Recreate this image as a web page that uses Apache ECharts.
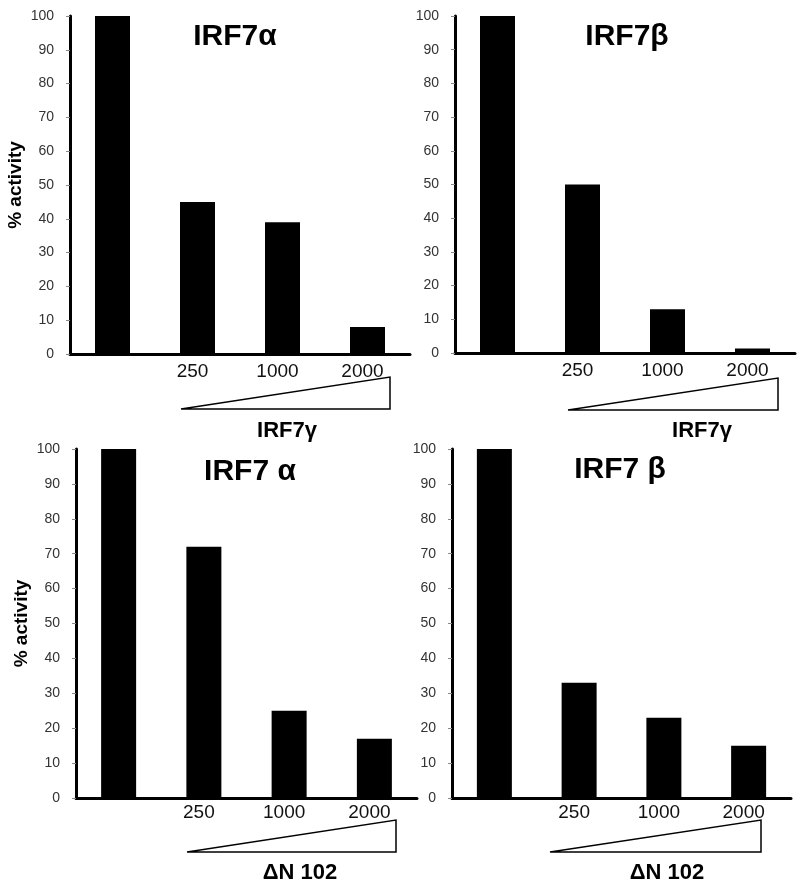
<!DOCTYPE html>
<html>
<head>
<meta charset="utf-8">
<script src="https://cdn.jsdelivr.net/npm/echarts@6/dist/echarts.min.js"></script>
<style>html,body{margin:0;padding:0;background:#fff}#c{width:800px;height:892px}</style>
</head>
<body>
<div id="c"></div>
<script>
var categories = ['', '250', '1000', '2000'];
var yTicks = [0, 10, 20, 30, 40, 50, 60, 70, 80, 90, 100];
var irf7aWithGamma = [100, 45, 39, 8];
var irf7bWithGamma = [100, 50, 13, 1.3];
var irf7aWithDN102 = [100, 72, 25, 17];
var irf7bWithDN102 = [100, 33, 23, 15];
var panelTitles = ['IRF7\u03b1', 'IRF7\u03b2', 'IRF7 \u03b1', 'IRF7 \u03b2'];
var competitorLabels = ['IRF7\u03b3', 'IRF7\u03b3', '\u0394N 102', '\u0394N 102'];
var yAxisTitle = '% activity';

var FONT = '"Liberation Sans", Arial, Helvetica, sans-serif';
var panels = [irf7aWithGamma, irf7bWithGamma, irf7aWithDN102, irf7bWithDN102];
var grids = [
  {left: 70, top: 16, width: 340, height: 338},
  {left: 455, top: 16, width: 340, height: 337},
  {left: 76, top: 449, width: 341, height: 349},
  {left: 452, top: 449, width: 339, height: 349}
];
var xLabelMargins = [8, 8, 5, 5];

var xAxes = [], yAxes = [], series = [];
panels.forEach(function (vals, i) {
  xAxes.push({
    type: 'category', gridIndex: i, data: categories, boundaryGap: true,
    axisLine: {lineStyle: {color: '#000', width: 3}},
    axisTick: {inside: true, length: 6, lineStyle: {color: '#999', width: 1}},
    axisLabel: {color: '#111', fontSize: 19, fontFamily: FONT, margin: xLabelMargins[i], padding: [0, 10, 0, 0]}
  });
  yAxes.push({
    type: 'value', gridIndex: i, min: yTicks[0], max: yTicks[yTicks.length - 1], interval: yTicks[1] - yTicks[0],
    name: (i % 2 === 0) ? yAxisTitle : '',
    nameLocation: 'middle', nameRotate: 90, nameGap: 45,
    nameTextStyle: {color: '#000', fontSize: 19, fontWeight: 'bold', fontFamily: FONT},
    axisLine: {show: true, lineStyle: {color: '#000', width: 3}},
    axisTick: {show: true, length: 4, lineStyle: {color: '#888', width: 1}},
    axisLabel: {color: '#333', fontSize: 14, fontFamily: FONT, margin: 16},
    splitLine: {show: false}
  });
  series.push({
    type: 'bar', xAxisIndex: i, yAxisIndex: i, data: vals, barWidth: 35,
    itemStyle: {color: '#000'}, silent: true, animation: false
  });
});

var titlePos = [[235, 37], [627, 37], [250, 472], [620, 470]];
var triangles = [
  [[181, 409], [390, 377], [390, 409]],
  [[568, 410], [778, 378], [778, 410]],
  [[187, 852], [396, 820], [396, 852]],
  [[550, 852], [761, 820], [761, 852]]
];
var labelPos = [[287, 431], [702, 431], [300, 873], [667, 873]];

var graphics = [];
for (var i = 0; i < 4; i++) {
  graphics.push({
    type: 'text', x: titlePos[i][0], y: titlePos[i][1],
    style: {text: panelTitles[i], fontSize: 30, fontWeight: 'bold', fontFamily: FONT, fill: '#000', textAlign: 'center', textVerticalAlign: 'middle'}
  });
  graphics.push({
    type: 'polygon', shape: {points: triangles[i]},
    style: {fill: '#fff', stroke: '#000', lineWidth: 1.5}
  });
  graphics.push({
    type: 'text', x: labelPos[i][0], y: labelPos[i][1],
    style: {text: competitorLabels[i], fontSize: 22, fontWeight: 'bold', fontFamily: FONT, fill: '#000', textAlign: 'center', textVerticalAlign: 'middle'}
  });
}

var chart = echarts.init(document.getElementById('c'), null, {renderer: 'canvas'});
chart.setOption({
  backgroundColor: '#fff',
  animation: false,
  grid: grids,
  xAxis: xAxes,
  yAxis: yAxes,
  series: series,
  graphic: graphics
});
</script>
</body>
</html>
